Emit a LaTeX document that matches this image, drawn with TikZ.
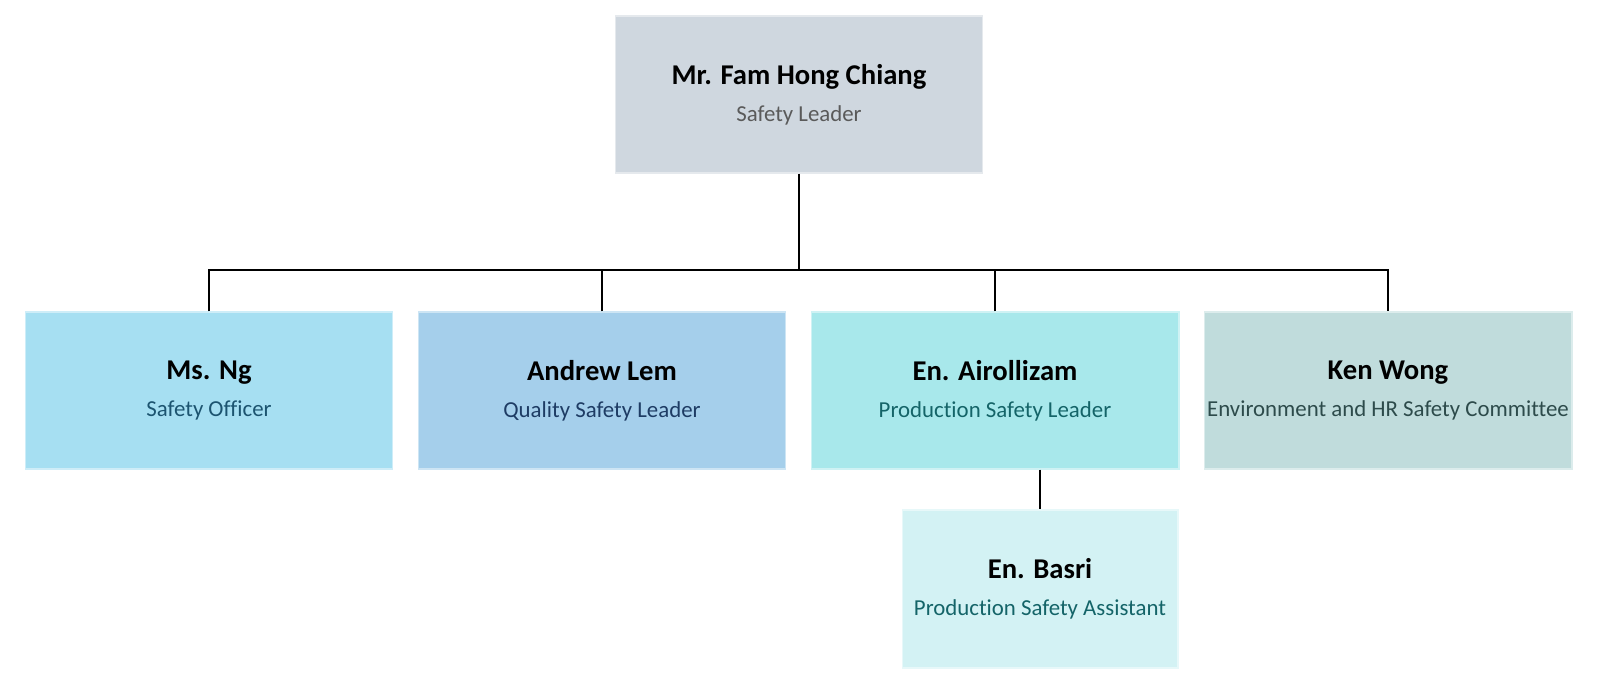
\documentclass[tikz,border=0pt]{standalone}
\usepackage{fontspec}
\setmainfont{Carlito}[Ligatures=NoCommon]
\usepackage{xcolor}
\usetikzlibrary{calc, positioning}

\definecolor{leadfill}{RGB}{207,215,223}
\definecolor{officerfill}{RGB}{166,223,242}
\definecolor{qualityfill}{RGB}{165,207,235}
\definecolor{prodfill}{RGB}{168,232,235}
\definecolor{envfill}{RGB}{192,220,220}
\definecolor{assistfill}{RGB}{211,242,244}
\definecolor{leadtxt}{RGB}{90,90,90}
\definecolor{officertxt}{RGB}{28,84,112}
\definecolor{qualitytxt}{RGB}{30,60,100}
\definecolor{prodtxt}{RGB}{20,100,104}
\definecolor{envtxt}{RGB}{45,75,75}

\newcommand{\person}[3]{{\fontsize{16.3}{19}\selectfont\bfseries #1}\\[9pt]{\fontsize{13}{15}\selectfont\color{#3}#2}}

\tikzset{
    box/.style={rectangle, fill=#1, draw=#1!55!white, line width=0.6pt, align=center,
        minimum width=7.36cm, minimum height=3.14cm, inner sep=0pt},
    link/.style={line width=1pt, black}
}

\begin{document}
\begin{tikzpicture}[x=0.02cm, y=0.02cm]
    \useasboundingbox (0,0) rectangle (1600,-685);

    % Top of the chart
    \node[box=leadfill] (lead) at (799,-94.5) {\person{Mr. Fam Hong Chiang}{Safety Leader}{leadtxt}};

    % Second row
    \node[box=officerfill] (officer) at (209,-390.5) {\person{Ms. Ng}{Safety Officer}{officertxt}};
    \node[box=qualityfill] (quality) at (602,-390.5) {\person{Andrew Lem}{Quality Safety Leader}{qualitytxt}};
    \node[box=prodfill] (production) at (995,-390.5) {\person{En. Airollizam}{Production Safety Leader}{prodtxt}};
    \node[box=envfill] (envcom) at (1388,-390.5) {\person{Ken Wong}{Environment and HR Safety Committee}{envtxt}};

    % Under the production leader
    \node[box=assistfill, minimum width=5.52cm, minimum height=3.16cm] (assistant) at (1040,-589) {\person{En. Basri}{Production Safety Assistant}{prodtxt}};

    % Connecting lines
    \coordinate (bus) at (799,-270);
    \draw[link] (lead.south) -- (lead.south |- bus);
    \draw[link] (officer.north) |- (envcom.north |- bus) -- (envcom.north);
    \foreach \n in {quality, production}
        \draw[link] (\n.north) -- (\n.north |- bus);
    \draw[link] (production.south -| assistant.north) -- (assistant.north);
\end{tikzpicture}
\end{document}
